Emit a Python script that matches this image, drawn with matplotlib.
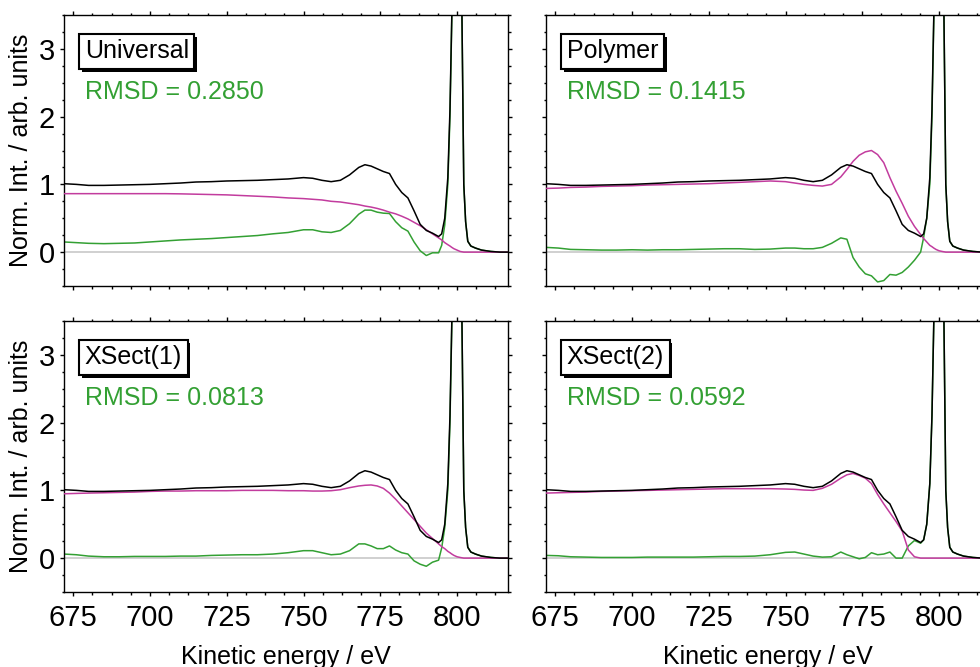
import matplotlib
matplotlib.use("Agg")
from matplotlib import pyplot as plt
from matplotlib.ticker import AutoMinorLocator, MultipleLocator
import matplotlib.patheffects as pe

plt.rcParams["font.family"] = ["Liberation Sans", "DejaVu Sans"]

# kinetic energy grid (eV)
energy = [672, 676, 680, 685, 690, 695, 700, 705, 710, 715, 720, 725, 730, 735, 740, 745,
          750, 753, 756, 759, 762, 765, 768,
          770, 772, 774, 776, 778, 780, 782, 784, 786, 788, 790, 792, 794,
          795, 796, 797, 797.7, 798.3, 799, 800, 801, 801.6, 802.2, 802.8, 803.5, 804.5, 806, 808, 811, 814, 817]

# measured spectrum (same in every panel)
measured = [1.01, 1.0, 0.985, 0.985, 0.99, 0.995, 1.0, 1.01, 1.02, 1.035, 1.04, 1.05, 1.055, 1.06, 1.07, 1.08,
            1.10, 1.09, 1.06, 1.04, 1.06, 1.14, 1.25,
            1.29, 1.27, 1.23, 1.19, 1.16, 1.0, 0.88, 0.80, 0.61, 0.41, 0.32, 0.28, 0.23,
            0.27, 0.50, 1.10, 2.1, 3.5, 6.0, 8.0, 6.0, 3.5, 1.0, 0.45, 0.16, 0.09, 0.06, 0.03, 0.01, 0.0, 0.0]

fit_universal = [0.863, 0.863, 0.863, 0.863, 0.863, 0.863, 0.863, 0.863, 0.86, 0.855, 0.85, 0.845, 0.835, 0.825, 0.815, 0.80,
                 0.79, 0.78, 0.77, 0.75, 0.74, 0.72, 0.70,
                 0.68, 0.665, 0.645, 0.62, 0.59, 0.565, 0.53, 0.49, 0.44, 0.39, 0.33, 0.27, 0.21,
                 0.18, 0.14, 0.11, 0.09, 0.07, 0.05, 0.03, 0.01, 0.005, 0, 0, 0, 0, 0, 0, 0, 0, 0]
resid_universal = [0.15, 0.14, 0.13, 0.125, 0.13, 0.135, 0.15, 0.165, 0.18, 0.19, 0.20, 0.215, 0.23, 0.245, 0.27, 0.29,
                   0.33, 0.33, 0.30, 0.29, 0.32, 0.42, 0.56,
                   0.62, 0.62, 0.59, 0.575, 0.57, 0.45, 0.36, 0.31, 0.15, 0.02, -0.05, -0.01, -0.01,
                   0.10, 0.40, 1.0, 2.0, 3.45, 6.0, 8.0, 6.0, 3.5, 1.0, 0.45, 0.16, 0.09, 0.06, 0.03, 0.01, 0.0, 0.0]

fit_polymer = [0.94, 0.945, 0.955, 0.96, 0.97, 0.975, 0.98, 0.99, 0.995, 1.0, 1.005, 1.01, 1.02, 1.03, 1.04, 1.05,
               1.04, 1.02, 1.0, 0.985, 0.975, 1.0, 1.11,
               1.22, 1.34, 1.43, 1.48, 1.50, 1.44, 1.32, 1.10, 0.90, 0.72, 0.53, 0.38, 0.26,
               0.20, 0.15, 0.10, 0.08, 0.06, 0.04, 0.02, 0.01, 0.005, 0, 0, 0, 0, 0, 0, 0, 0, 0]
resid_polymer = [0.07, 0.06, 0.04, 0.035, 0.03, 0.03, 0.035, 0.03, 0.035, 0.035, 0.04, 0.045, 0.05, 0.05, 0.04, 0.045,
                 0.06, 0.06, 0.05, 0.05, 0.07, 0.13, 0.21,
                 0.19, -0.08, -0.22, -0.32, -0.35, -0.44, -0.42, -0.33, -0.34, -0.30, -0.22, -0.12, 0.0,
                 0.22, 0.50, 1.0, 2.0, 3.45, 6.0, 8.0, 6.0, 3.5, 1.0, 0.45, 0.16, 0.09, 0.06, 0.03, 0.01, 0.0, 0.0]

fit_xsect1 = [0.95, 0.955, 0.96, 0.965, 0.97, 0.975, 0.985, 0.99, 0.99, 0.995, 0.995, 0.995, 1.0, 1.0, 1.0, 0.995,
              0.995, 0.99, 0.99, 0.995, 1.01, 1.04, 1.065,
              1.075, 1.08, 1.065, 1.03, 0.96, 0.87, 0.77, 0.67, 0.57, 0.47, 0.37, 0.29, 0.21,
              0.17, 0.14, 0.10, 0.08, 0.06, 0.04, 0.02, 0.01, 0.005, 0, 0, 0, 0, 0, 0, 0, 0, 0]
resid_xsect1 = [0.06, 0.05, 0.03, 0.02, 0.02, 0.025, 0.025, 0.025, 0.03, 0.03, 0.04, 0.045, 0.05, 0.05, 0.06, 0.08,
                0.11, 0.11, 0.08, 0.05, 0.06, 0.11, 0.21,
                0.21, 0.18, 0.14, 0.14, 0.18, 0.12, 0.08, 0.06, -0.04, -0.09, -0.12, -0.06, -0.03,
                0.15, 0.45, 1.0, 2.0, 3.45, 6.0, 8.0, 6.0, 3.5, 1.0, 0.45, 0.16, 0.09, 0.06, 0.03, 0.01, 0.0, 0.0]

fit_xsect2 = [0.96, 0.965, 0.97, 0.975, 0.985, 0.99, 0.995, 1.0, 1.005, 1.01, 1.015, 1.02, 1.025, 1.025, 1.025, 1.025,
              1.02, 1.015, 1.005, 1.0, 1.03, 1.09, 1.18,
              1.23, 1.25, 1.22, 1.18, 1.10, 0.94, 0.80, 0.67, 0.54, 0.40, 0.12, 0.02, 0.0,
              0, 0, 0, 0, 0, 0, 0, 0, 0, 0, 0, 0, 0, 0, 0, 0, 0, 0]
resid_xsect2 = [0.04, 0.035, 0.02, 0.015, 0.01, 0.01, 0.01, 0.015, 0.015, 0.015, 0.015, 0.02, 0.025, 0.025, 0.03, 0.05,
                0.085, 0.09, 0.06, 0.03, 0.015, 0.02, 0.09,
                0.05, 0.02, -0.01, 0.01, 0.08, 0.05, 0.06, 0.09, 0.0, 0.0, 0.18, 0.26, 0.22,
                0.27, 0.50, 1.1, 2.1, 3.5, 6.0, 8.0, 6.0, 3.5, 1.0, 0.45, 0.16, 0.09, 0.06, 0.03, 0.01, 0.0, 0.0]

models = ["Universal", "Polymer", "XSect(1)", "XSect(2)"]
rmsd = ["0.2850", "0.1415", "0.0813", "0.0592"]
fits = [fit_universal, fit_polymer, fit_xsect1, fit_xsect2]
resids = [resid_universal, resid_polymer, resid_xsect1, resid_xsect2]

GREEN = "#33a033"
MAGENTA = "#c23c9e"


def main():
    fig = plt.figure(figsize=(9.8, 6.67), dpi=100)
    W, H = 980, 667
    lefts = [64, 546]
    tops = [15, 321]
    aw, ah = 444, 271

    for i, name in enumerate(models):
        row, col = divmod(i, 2)
        ax = fig.add_axes([lefts[col] / W, (H - tops[row] - ah) / H, aw / W, ah / H])

        ax.axhline(0, color="#c8c8c8", lw=1.2, zorder=1)
        ax.plot(energy, resids[i], color=GREEN, lw=1.1, zorder=2)
        ax.plot(energy, fits[i], color=MAGENTA, lw=1.1, zorder=3)
        ax.plot(energy, measured, color="black", lw=1.1, zorder=4)

        ax.set_xlim(672, 816.6)
        ax.set_ylim(-0.5, 3.5)
        ax.xaxis.set_major_locator(MultipleLocator(25))
        ax.xaxis.set_minor_locator(AutoMinorLocator(4))
        ax.yaxis.set_major_locator(MultipleLocator(1))
        ax.yaxis.set_minor_locator(AutoMinorLocator(4))
        ax.tick_params(which="both", direction="out", top=True, right=True, width=1)
        ax.tick_params(which="major", length=2.6, labelsize=21)
        ax.tick_params(axis="x", which="major", pad=6)
        ax.tick_params(axis="y", which="major", pad=4)
        ax.tick_params(which="minor", length=1.8)
        for sp in ax.spines.values():
            sp.set_linewidth(1)

        if row == 0:
            ax.tick_params(labelbottom=False)
        else:
            # the label sits low and is clipped by the figure edge, as in the original
            ax.set_xlabel("Kinetic energy / eV", fontsize=18)
            ax.xaxis.set_label_coords(0.5, -0.195)
        if col == 1:
            ax.tick_params(labelleft=False)
        else:
            ax.set_ylabel("Norm. Int. / arb. units", fontsize=18)
            ax.yaxis.set_label_coords(-0.07, 0.5)

        t = ax.text(0.047, 0.866, name, transform=ax.transAxes, fontsize=18,
                    ha="left", va="center", zorder=6,
                    bbox=dict(boxstyle="square,pad=0.22", fc="white", ec="black", lw=1.5))
        t.get_bbox_patch().set_path_effects([
            pe.SimplePatchShadow(offset=(2, -2), shadow_rgbFace="black", alpha=1.0),
            pe.Normal()])
        ax.text(0.047, 0.717, "RMSD = " + rmsd[i], transform=ax.transAxes, fontsize=18,
                color=GREEN, ha="left", va="center", zorder=6)

    fig.savefig("out.png", dpi=100)


if __name__ == '__main__':
    main()
